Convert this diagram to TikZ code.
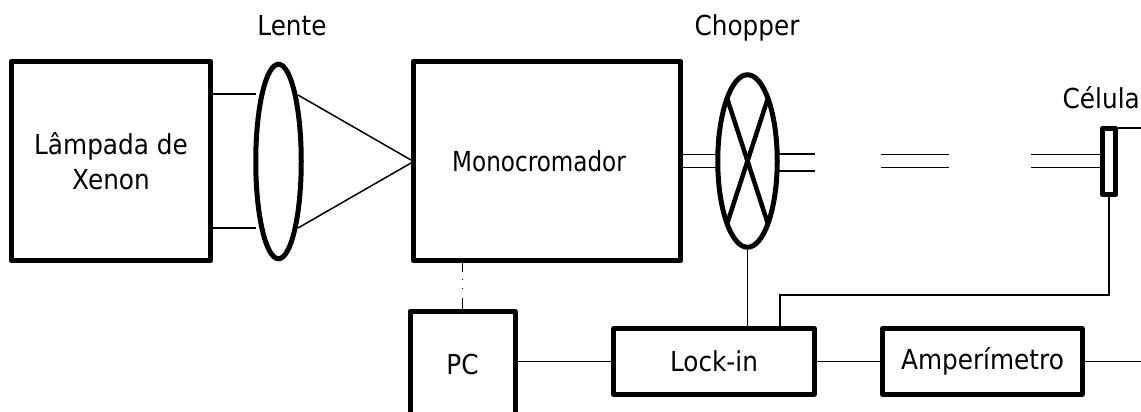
\documentclass[tikz,border=0pt]{standalone}
\usepackage{fontspec}
\setmainfont{DejaVu Sans}[FakeStretch=0.9]
\newfontfamily\narrowfont{DejaVu Sans}[FakeStretch=0.84]
\usetikzlibrary{shapes.geometric}
\tikzset{
  x=1pt,y=-1pt,
  box/.style={draw=black,line width=5pt,line join=round,rectangle,inner sep=0pt,align=center,font=\fontsize{27.5}{35}\selectfont},
  lens/.style={draw=black,line width=5pt,ellipse,inner sep=0pt},
  thin wire/.style={draw=black,line width=1.5pt},
  thick wire/.style={draw=black,line width=5pt,line join=round},
  cross/.style={draw=black,line width=4.5pt},
  caption/.style={inner sep=0pt,font=\fontsize{27.5}{30}\selectfont}
}
\begin{document}
\begin{tikzpicture}
\useasboundingbox (0,0) rectangle (1141,412);
% boxes
\node[box,minimum width=199.5pt,minimum height=199.5pt] (lamp) at (111,161) {Lâmpada de\\Xenon};
\node[box,minimum width=267.5pt,minimum height=199.5pt] (mono) at (547,161) {\hspace*{-16pt}\narrowfont Monocromador};
\node[box,minimum width=200.5pt,minimum height=65.5pt] (lock) at (714,361.5) {Lock-in};
\node[box,minimum width=199.5pt,minimum height=65.5pt] (amp) at (982.5,361.5) {Amperímetro};
\node[box,draw=none,minimum width=100pt,minimum height=100pt] (pc) at (462.5,364) {PC};
\draw[thick wire] (pc.south west) -- (pc.north west) -- (pc.north east) -- (pc.south east);
% lens, chopper, cell
\node[lens,minimum width=45.5pt,minimum height=194.5pt] (lente) at (278.5,161.5) {};
\node[lens,minimum width=59.5pt,minimum height=172.5pt] (chop) at (747.5,161) {};
\node[box,minimum width=13pt,minimum height=66.5pt] (cell) at (1109,161.5) {};
% chopper cross
\coordinate (ca) at (727,98); \coordinate (cb) at (768,224);
\coordinate (cc) at (768,98); \coordinate (cd) at (727,224);
\draw[cross] (ca) -- (cb);
\draw[cross] (cc) -- (cd);
% captions
\node[caption,anchor=base] (tlente) at (292,36) {Lente};
\node[caption,anchor=base] (tchop) at (747,36) {Chopper};
\node[caption,anchor=base east] (tcell) at (1140,109) {Célula};
% lamp to lens
\coordinate (l1) at (213,94); \coordinate (l2) at (256,94);
\coordinate (l3) at (213,228); \coordinate (l4) at (256,228);
\draw[thin wire] (l1) -- (l2);
\draw[thin wire] (l3) -- (l4);
% lens to mono
\coordinate (f1) at (298,95); \coordinate (f2) at (411,160);
\coordinate (f3) at (298,228); \coordinate (f4) at (411,163);
\draw[thin wire] (f1) -- (f2);
\draw[thin wire] (f3) -- (f4);
% beam
\coordinate (b1) at (683,154.5); \coordinate (b2) at (716,154.5);
\coordinate (b3) at (683,167.5); \coordinate (b4) at (716,167.5);
\draw[thin wire] (b1) -- (b2);
\draw[thin wire] (b3) -- (b4);
\coordinate (b5) at (779,154); \coordinate (b6) at (815,154);
\coordinate (b7) at (779,171); \coordinate (b8) at (815,171);
\draw[thin wire] (b5) -- (b6);
\draw[thin wire] (b7) -- (b8);
\coordinate (m1) at (881,154.5); \coordinate (m2) at (949,154.5);
\coordinate (m3) at (881,167.5); \coordinate (m4) at (949,167.5);
\draw[thin wire] (m1) -- (m2);
\draw[thin wire] (m3) -- (m4);
\coordinate (r1) at (1031,154.5); \coordinate (r2) at (1100,154.5);
\coordinate (r3) at (1031,167.5); \coordinate (r4) at (1100,167.5);
\draw[thin wire] (r1) -- (r2);
\draw[thin wire] (r3) -- (r4);
% cell wires
\coordinate (top) at (1141,128);
\draw[thin wire] (cell.north east |- top) -- (top);
\coordinate (bend) at (780,295);
\draw[thin wire] (cell.south) -- (cell.south |- bend) -- (bend) -- (bend |- lock.north);
% chopper to lock-in
\draw[thin wire] (chop.south) -- (chop.south |- lock.north);
% mono to PC
\draw[thin wire,dash pattern=on 9pt off 6.5pt on 1pt off 8.5pt on 1pt off 9pt on 12pt off 0pt] (pc.north |- mono.south) -- (pc.north);
% bottom row
\draw[thin wire] (pc.east |- lock.west) -- (lock.west);
\draw[thin wire] (lock.east) -- (amp.west);
\coordinate (out) at (1141,361.5);
\draw[thin wire] (amp.east) -- (out);
\end{tikzpicture}
\end{document}
